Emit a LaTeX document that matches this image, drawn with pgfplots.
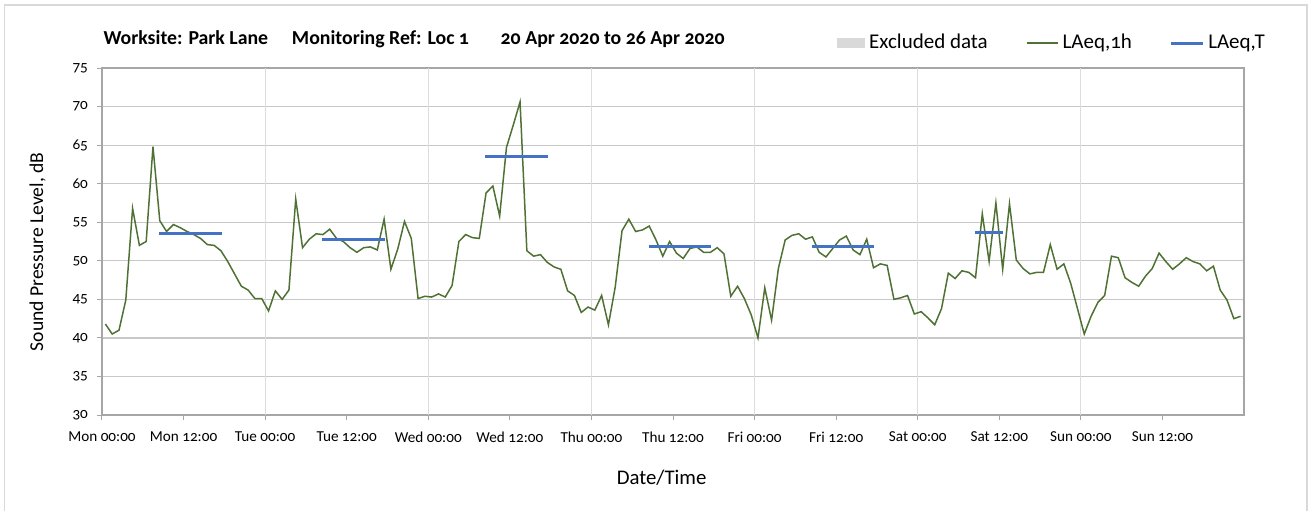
\documentclass[border=0pt]{standalone}
\usepackage{pgfplots}
\usepackage{pgfplotstable}
\pgfplotsset{compat=1.18}
\usepackage{fontspec}
\setmainfont{Carlito}[Numbers=OldStyle]
\definecolor{laeqgreen}{RGB}{79,114,52}
\definecolor{laeqblue}{RGB}{68,114,196}
\definecolor{gridh}{RGB}{200,200,200}
\definecolor{gridv}{RGB}{220,220,220}
\definecolor{axisgray}{RGB}{166,166,166}
\definecolor{framegray}{RGB}{217,217,217}

\pgfplotstableread{
h L
0.5 41.8
1.5 40.5
2.5 41.0
3.5 44.9
4.5 56.8
5.5 52.0
6.5 52.5
7.5 64.8
8.5 55.2
9.5 53.8
10.5 54.7
11.5 54.3
12.5 53.8
13.5 53.4
14.5 52.9
15.5 52.1
16.5 52.0
17.5 51.3
18.5 49.9
19.5 48.3
20.5 46.7
21.5 46.2
22.5 45.1
23.5 45.1
24.5 43.5
25.5 46.1
26.5 45.0
27.5 46.2
28.5 58.0
29.5 51.7
30.5 52.8
31.5 53.5
32.5 53.4
33.5 54.1
34.5 52.9
35.5 52.5
36.5 51.7
37.5 51.1
38.5 51.7
39.5 51.8
40.5 51.4
41.5 55.4
42.5 48.9
43.5 51.5
44.5 55.1
45.5 52.9
46.5 45.1
47.5 45.4
48.5 45.3
49.5 45.7
50.5 45.3
51.5 46.8
52.5 52.5
53.5 53.4
54.5 53.0
55.5 52.9
56.5 58.8
57.5 59.7
58.5 55.8
59.5 64.7
60.5 67.6
61.5 70.6
62.5 51.3
63.5 50.6
64.5 50.8
65.5 49.8
66.5 49.2
67.5 48.9
68.5 46.1
69.5 45.5
70.5 43.3
71.5 44.0
72.5 43.6
73.5 45.5
74.5 41.7
75.5 46.6
76.5 53.9
77.5 55.4
78.5 53.8
79.5 54.0
80.5 54.5
81.5 52.7
82.5 50.6
83.5 52.5
84.5 51.0
85.5 50.3
86.5 51.6
87.5 51.8
88.5 51.1
89.5 51.1
90.5 51.7
91.5 50.9
92.5 45.4
93.5 46.7
94.5 45.1
95.5 43.0
96.5 40.0
97.5 46.5
98.5 42.3
99.5 49.0
100.5 52.7
101.5 53.3
102.5 53.5
103.5 52.8
104.5 53.1
105.5 51.1
106.5 50.5
107.5 51.6
108.5 52.7
109.5 53.2
110.5 51.4
111.5 50.8
112.5 52.8
113.5 49.1
114.5 49.6
115.5 49.4
116.5 45.0
117.5 45.2
118.5 45.5
119.5 43.1
120.5 43.4
121.5 42.6
122.5 41.7
123.5 43.8
124.5 48.4
125.5 47.7
126.5 48.7
127.5 48.5
128.5 47.8
129.5 56.1
130.5 49.9
131.5 57.5
132.5 48.9
133.5 57.4
134.5 50.1
135.5 49.0
136.5 48.3
137.5 48.5
138.5 48.5
139.5 52.1
140.5 48.9
141.5 49.6
142.5 47.1
143.5 43.8
144.5 40.5
145.5 42.8
146.5 44.6
147.5 45.5
148.5 50.6
149.5 50.4
150.5 47.8
151.5 47.2
152.5 46.7
153.5 48.0
154.5 49.0
155.5 51.0
156.5 49.9
157.5 48.9
158.5 49.6
159.5 50.4
160.5 49.9
161.5 49.6
162.5 48.7
163.5 49.3
164.5 46.2
165.5 44.9
166.5 42.5
167.5 42.8
}\hourly

\begin{document}
\begin{tikzpicture}
\path[use as bounding box] (0,0) rectangle (654.5pt,255.5pt);
\draw[framegray, line width=0.6pt] (2.25pt,0) -- (2.25pt,253pt) -- (653.5pt,253pt) -- (653.5pt,0);
\begin{axis}[
  at={(51pt,48pt)}, anchor=south west,
  scale only axis,
  width=571pt, height=173.5pt,
  xmin=0, xmax=168, ymin=30, ymax=75,
  xtick={0,12,...,156},
  xticklabels={Mon 00:00,Mon 12:00,Tue 00:00,Tue 12:00,Wed 00:00,Wed 12:00,Thu 00:00,Thu 12:00,Fri 00:00,Fri 12:00,Sat 00:00,Sat 12:00,Sun 00:00,Sun 12:00},
  extra x ticks={24,48,...,144},
  extra x tick labels={},
  extra x tick style={grid=major, major tick length=0pt, major grid style={gridv, line width=0.6pt}},
  ytick={30,35,...,75},
  ymajorgrids=true,
  major grid style={gridh, line width=0.6pt},
  tick align=outside,
  major tick length=2.5pt,
  tick style={axisgray, line width=0.5pt},
  axis line style={axisgray, line width=0.8pt},
  xtick pos=bottom, ytick pos=left,
  /pgf/number format/assume math mode=true,
  tick label style={font=\fontsize{7.6pt}{9pt}\selectfont},
  xticklabel style={yshift=-2.5pt},
  yticklabel style={xshift=-1pt},
  xlabel={Date/Time},
  ylabel={Sound Pressure Level, dB},
  xlabel style={at={(axis description cs:0.49,-0.182)}, anchor=center, font=\fontsize{10.4pt}{12pt}\selectfont},
  ylabel style={at={(axis description cs:-0.0565,0.47)}, anchor=center, font=\fontsize{9.8pt}{12pt}\selectfont},
  unbounded coords=jump,
  legend columns=3,
  legend style={at={(axis description cs:0.643,1.072)}, anchor=west, draw=none, fill=none,
    font=\fontsize{10.5pt}{12pt}\selectfont, inner sep=0pt,
    /tikz/every even column/.append style={column sep=17pt}},
  legend image code/.code={\draw[#1] (0cm,0cm) -- (0.55cm,0cm);},
  clip=false,
]
\addlegendimage{area legend, fill=framegray, draw=none, legend image code/.code={\fill[framegray] (0cm,-0.09cm) rectangle (0.5cm,0.09cm);}}
\addlegendentry{Excluded data}
\addplot[laeqgreen, line width=0.75pt] table[x=h, y=L] {\hourly};
\addlegendentry{LAeq,1h}
\addplot[laeqblue, line width=1.5pt] coordinates {
 (8.4,53.6) (17.6,53.6) (20,nan)
 (32.4,52.8) (41.6,52.8) (44,nan)
 (56.4,63.5) (65.6,63.5) (68,nan)
 (80.4,51.9) (89.6,51.9) (92,nan)
 (104.4,51.8) (113.6,51.8) (116,nan)
 (128.4,53.7) (132.6,53.7)
};
\addlegendentry{LAeq,T}
\node[anchor=west, font=\bfseries\fontsize{9.9pt}{11pt}\selectfont, inner sep=0pt] at (axis description cs:0.001,1.082)
  {Worksite: Park Lane\hspace{1.2em}Monitoring Ref: Loc 1\hspace{1.6em}20 Apr 2020 to 26 Apr 2020};
\end{axis}
\end{tikzpicture}
\end{document}
